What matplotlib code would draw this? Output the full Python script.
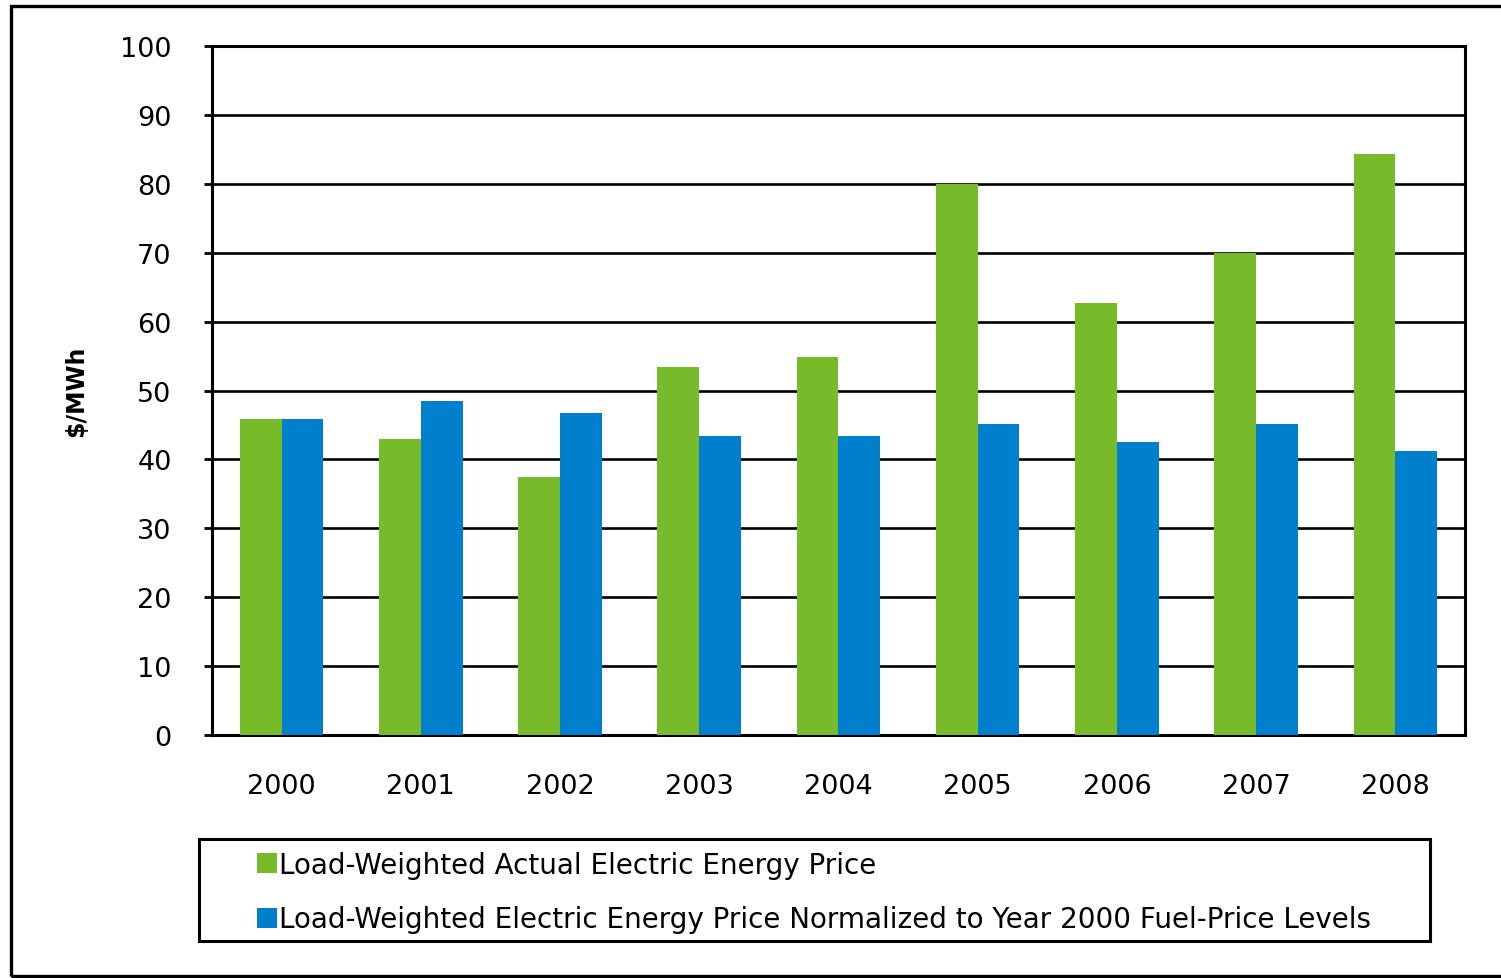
import matplotlib
matplotlib.use("Agg")
import matplotlib.pyplot as plt
from matplotlib.patches import Rectangle
import numpy as np

plt.rcParams['font.family'] = ['DejaVu Sans']

years = ['2000', '2001', '2002', '2003', '2004', '2005', '2006', '2007', '2008']
actual_price = [45.8, 43.0, 37.5, 53.4, 54.8, 80.0, 62.7, 70.0, 84.3]
normalized_price = [45.8, 48.5, 46.7, 43.4, 43.4, 45.2, 42.5, 45.2, 41.2]
series_names = ['Load-Weighted Actual Electric Energy Price',
                'Load-Weighted Electric Energy Price Normalized to Year 2000 Fuel-Price Levels']

GREEN = '#77bb2a'
BLUE = '#0080cc'

fig = plt.figure(figsize=(15.01, 9.79), dpi=100)
ax = fig.add_axes([0.1412, 0.2482, 0.8348, 0.7038])

x = np.arange(len(years))
w = 0.3
ax.bar(x - w / 2, actual_price, w, color=GREEN, zorder=3, label=series_names[0])
ax.bar(x + w / 2, normalized_price, w, color=BLUE, zorder=3, label=series_names[1])

ax.set_xlim(-0.5, len(years) - 0.5)
ax.set_ylim(0, 100)
ax.set_yticks(np.arange(0, 101, 10))
ax.set_xticks(x)
ax.set_xticklabels(years)
ax.yaxis.grid(True, color='black', linewidth=1.9, zorder=1)
ax.set_axisbelow(True)

for s in ax.spines.values():
    s.set_linewidth(2.2)
ax.tick_params(axis='x', length=0, pad=27, labelsize=19.5)
ax.tick_params(axis='y', length=6, width=2, pad=23, labelsize=19.5)

fig.text(0.051, 0.6, '$/MWh', rotation=90, ha='center', va='center',
         fontsize=17, fontweight='bold')

# legend with its own box below the axes
fig.add_artist(Rectangle((199 / 1501, 1 - 942 / 979), (1430 - 199) / 1501, 102 / 979,
                         transform=fig.transFigure, fill=False, edgecolor='black',
                         linewidth=2.2))
fig.legend(loc='upper left', bbox_to_anchor=(257 / 1501, 1 - 852 / 979),
           frameon=False, fontsize=20, handlelength=0.72, handleheight=0.72,
           handletextpad=0.08, labelspacing=0.95, borderpad=0, borderaxespad=0)

# outer frame
fig.add_artist(Rectangle((11 / 1501, 2 / 979), 1.1, 1 - 9 / 979,
                         transform=fig.transFigure, fill=False, edgecolor='black',
                         linewidth=2.4, clip_on=False))

fig.savefig('out.png', dpi=100)
